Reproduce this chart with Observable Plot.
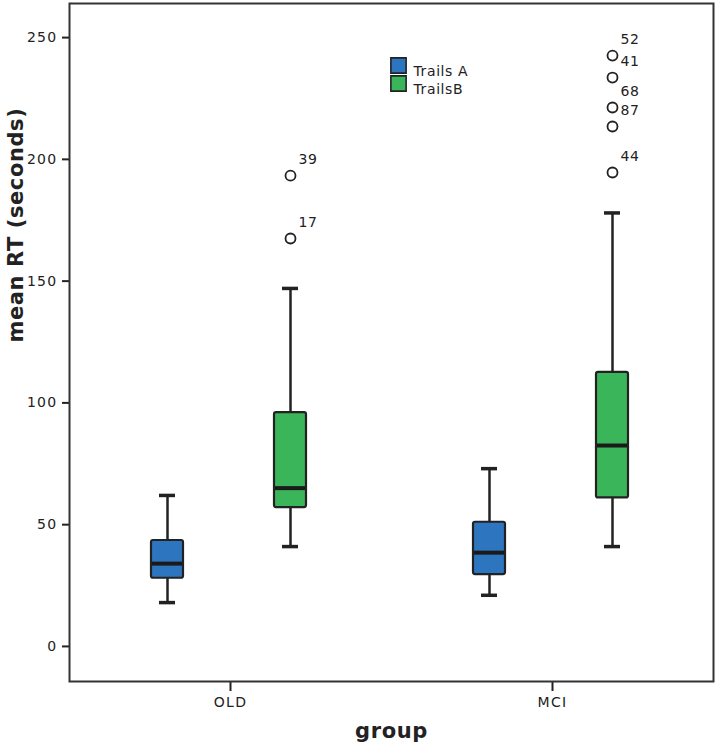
<!DOCTYPE html>
<html>
<head>
<meta charset="utf-8">
<script src="https://cdn.jsdelivr.net/npm/d3@7"></script>
<script src="https://cdn.jsdelivr.net/npm/@observablehq/plot@0.6"></script>
<style>
  body { margin: 0; background: #fff; }
  #chart svg text { letter-spacing: 0.6px; }
  #chart svg [aria-label="y-axis tick label"] text,
  #chart svg [aria-label="x-axis tick label"] text { letter-spacing: 1.3px; }
</style>
</head>
<body>
<div id="chart"></div>
<script>
// ---- data ----
const groups = ["OLD", "MCI"];
const series = ["Trails A", "TrailsB"];
const yTicks = [0, 50, 100, 150, 200, 250];

const boxGroup = ["OLD", "OLD", "MCI", "MCI"];
const boxSeries = ["Trails A", "TrailsB", "Trails A", "TrailsB"];
const whiskerLow = [18, 41, 21, 41];
const quartile1 = [28, 57, 29.5, 61];
const median = [34, 65, 38.5, 82.5];
const quartile3 = [43.5, 96, 51, 112.5];
const whiskerHigh = [62, 147, 73, 178];

const outlierGroup = ["OLD", "OLD", "MCI", "MCI", "MCI", "MCI", "MCI"];
const outlierSeries = ["TrailsB", "TrailsB", "TrailsB", "TrailsB", "TrailsB", "TrailsB", "TrailsB"];
const outlierValue = [193.3, 167.5, 242.6, 233.6, 221.3, 213.5, 194.6];
const outlierLabel = ["39", "17", "52", "41", "68", "87", "44"];

// ---- tables built from arrays ----
const boxes = boxGroup.map((g, i) => ({
  group: g, series: boxSeries[i], lo: whiskerLow[i], q1: quartile1[i],
  med: median[i], q3: quartile3[i], hi: whiskerHigh[i]
}));
const outliers = outlierGroup.map((g, i) => ({
  group: g, series: outlierSeries[i], value: outlierValue[i], label: outlierLabel[i]
}));

// ---- styles ----
const FONT = "DejaVu Sans";
const INK = "#222";
const seriesOffset = {"Trails A": -63, "TrailsB": 60};
const colors = ["#2E75C0", "#3BB55A"];

const marks = [];
series.forEach((s) => {
  const dx = seriesOffset[s];
  const b = boxes.filter(d => d.series === s);
  const o = outliers.filter(d => d.series === s);
  marks.push(
    Plot.ruleX(b, {x: "group", y1: "lo", y2: "q1", dx, stroke: INK, strokeWidth: 2.5}),
    Plot.ruleX(b, {x: "group", y1: "q3", y2: "hi", dx, stroke: INK, strokeWidth: 2.5}),
    Plot.tickY(b, {x: "group", y: "lo", dx, insetLeft: 153, insetRight: 153, stroke: INK, strokeWidth: 3.5}),
    Plot.tickY(b, {x: "group", y: "hi", dx, insetLeft: 153, insetRight: 153, stroke: INK, strokeWidth: 3.5}),
    Plot.barY(b, {x: "group", y1: "q1", y2: "q3", dx, insetLeft: 145, insetRight: 145, fill: "series",
                  stroke: INK, strokeWidth: 2.2, rx: 2}),
    Plot.tickY(b, {x: "group", y: "med", dx, insetLeft: 146, insetRight: 146, stroke: "#1a1a1a", strokeWidth: 4}),
    Plot.dot(o, {x: "group", y: "value", dx, r: 5, fill: "white", stroke: INK, strokeWidth: 1.8}),
    Plot.text(o, {x: "group", y: "value", text: "label", dx: dx + 8, dy: -16,
                  textAnchor: "start", fontSize: 14, fill: INK})
  );
});

// legend
series.forEach((s, i) => {
  marks.push(
    Plot.dot([s], {frameAnchor: "top-left", dx: 329, dy: 62 + 18 * i, symbol: "square",
                   r: 8.6, fill: d => d, stroke: INK, strokeWidth: 1.6}),
    Plot.text([s], {frameAnchor: "top-left", dx: 344, dy: 63 + 18 * i, text: d => d,
                    textAnchor: "start", fontSize: 14, fill: INK})
  );
});

const chart = Plot.plot({
  width: 718,
  height: 750,
  marginLeft: 69,
  marginRight: 5,
  marginTop: 3,
  marginBottom: 69,
  style: {fontFamily: FONT, background: "white", color: INK},
  x: {domain: groups, padding: 0},
  y: {domain: [-14.4, 264]},
  color: {domain: series, range: colors},
  marks: [
    Plot.axisY({ticks: yTicks, tickSize: 7, tickPadding: 5, fontSize: 14, label: null,
                stroke: INK, strokeWidth: 2, fill: INK}),
    Plot.axisX({tickSize: 10, tickPadding: 6, fontSize: 14, label: null,
                stroke: INK, strokeWidth: 2, fill: INK}),
    ...marks,
    Plot.frame({stroke: "#333", strokeWidth: 2}),
    Plot.text(["mean RT (seconds)"], {frameAnchor: "left", dx: -53, rotate: -90,
              fontWeight: "bold", fontSize: 21, fill: INK}),
    Plot.text(["group"], {frameAnchor: "bottom", dy: 56, fontWeight: "bold", fontSize: 21, fill: INK})
  ]
});
document.getElementById("chart").appendChild(chart);
</script>
</body>
</html>
